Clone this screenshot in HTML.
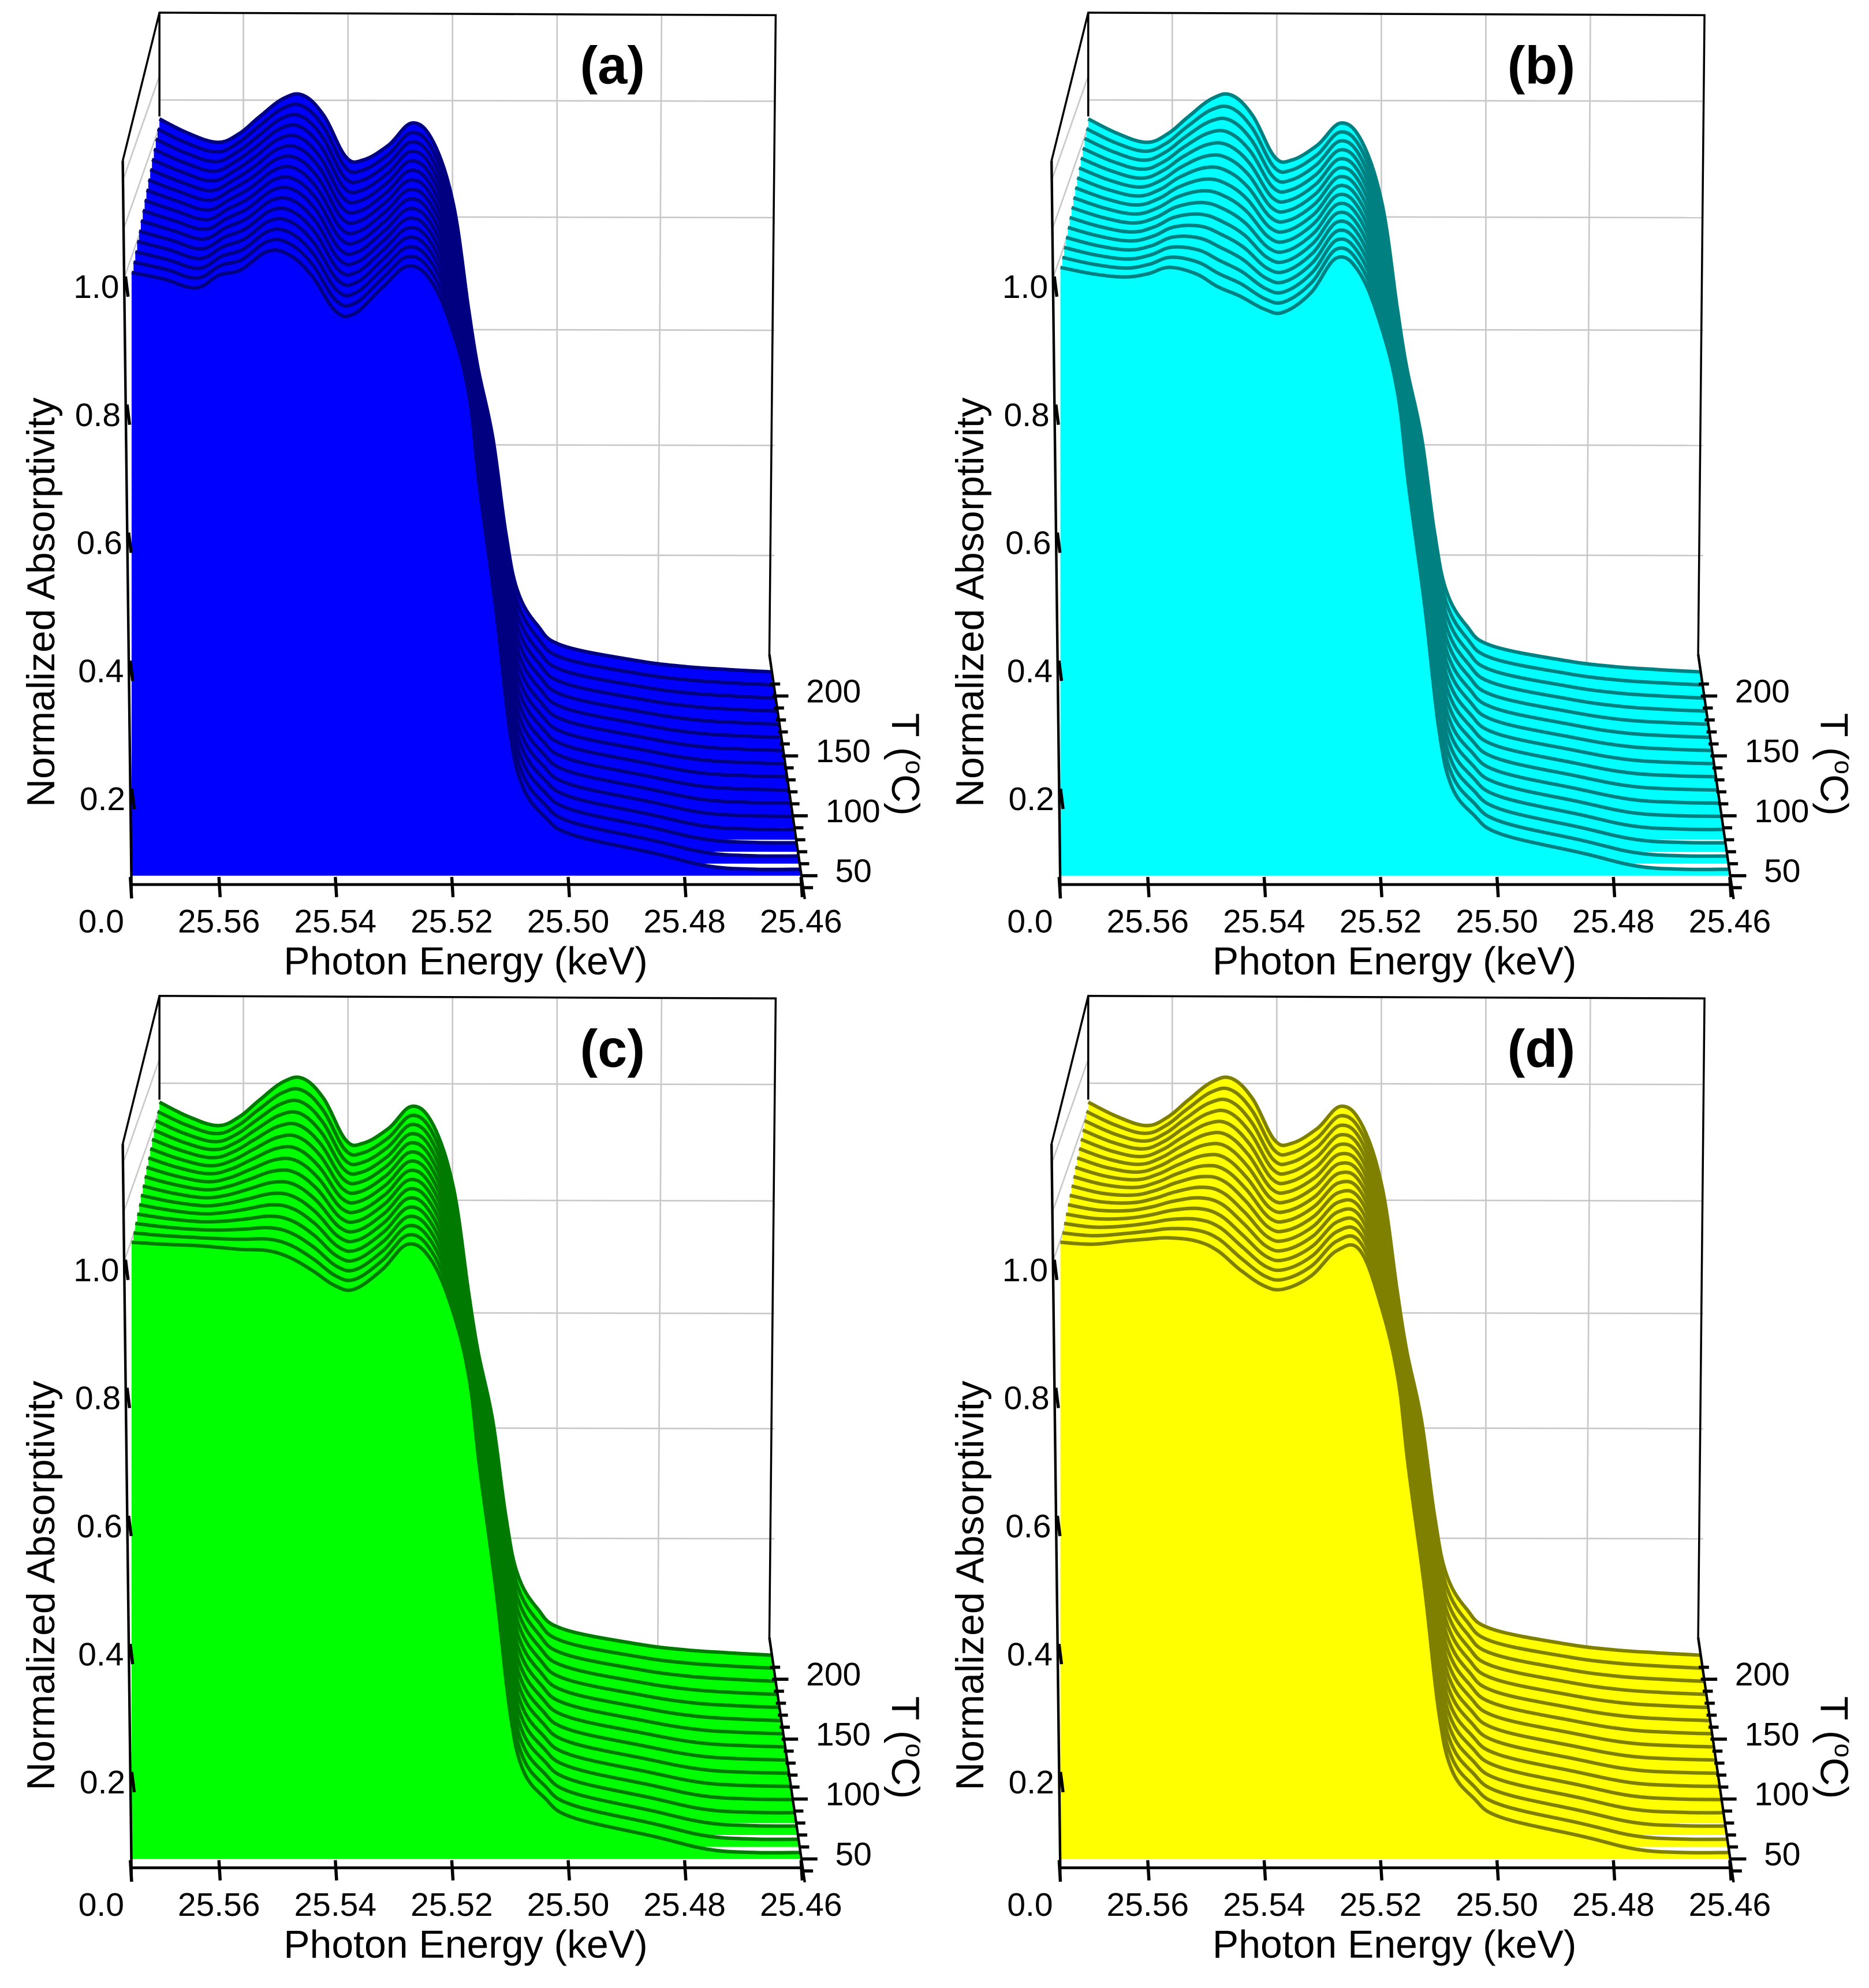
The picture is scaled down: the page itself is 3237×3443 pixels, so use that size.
<!DOCTYPE html>
<html><head><meta charset="utf-8"><style>
html,body{margin:0;padding:0;background:#fff;}
svg{display:block;}
text{font-family:"Liberation Sans",sans-serif;fill:#000;}
</style></head><body>
<svg id="fig" width="3237" height="3443" viewBox="0 0 1477 1571" preserveAspectRatio="none" xmlns="http://www.w3.org/2000/svg"></svg>
<script>
// ---- data ----
const energies = [25.575,25.5695,25.564,25.56,25.5563,25.5517,25.548,25.5441,25.54,25.5367,25.532,25.5275,25.5235,25.5198,25.517,25.5152,25.5124,25.51,25.5078,25.504,25.4993,25.4852,25.476,25.468,25.46];
const temperatures = [50,60,70,80,90,100,110,120,130,140,150,160,170,180,190,200];
const mixWeights = [0,0.067,0.133,0.2,0.267,0.333,0.4,0.467,0.533,0.6,0.667,0.733,0.8,0.867,0.933,1];
const backCurve = [1.065,1.04,1.025,1.04,1.068,1.10,1.105,1.07,1.0,0.995,1.02,1.058,1.024,0.918,0.743,0.64,0.52,0.36,0.26,0.2,0.166,0.14,0.13,0.125,0.121];
const frontA = [1.022,1.012,0.998,1.018,1.026,1.055,1.05,1.018,0.962,0.958,0.998,1.032,1.008,0.93,0.828,0.684,0.494,0.304,0.219,0.172,0.144,0.115,0.095,0.09,0.09];
const frontB = [1.03,1.02,1.015,1.02,1.03,1.02,1.0,0.985,0.965,0.96,0.99,1.045,1.02,0.935,0.83,0.69,0.5,0.31,0.22,0.175,0.145,0.115,0.095,0.09,0.09];
const frontC = [1.043,1.04,1.038,1.035,1.032,1.03,1.02,1.0,0.975,0.97,1.0,1.04,1.015,0.935,0.83,0.69,0.5,0.31,0.22,0.175,0.145,0.115,0.095,0.09,0.09];
const frontD = [1.043,1.04,1.045,1.048,1.05,1.045,1.03,1.0,0.975,0.97,0.99,1.03,1.03,0.94,0.83,0.69,0.5,0.31,0.22,0.175,0.145,0.115,0.095,0.09,0.09];
const xTicks = [25.56,25.54,25.52,25.50,25.48,25.46];
const xTickLabels = ["25.56","25.54","25.52","25.50","25.48","25.46"];
const yTicks = [0.2,0.4,0.6,0.8,1.0];
const yTickLabels = ["0.2","0.4","0.6","0.8","1.0"];
const tTicks = [40,50,60,70,80,90,100,110,120,130,140,150,160,170,180,190,200,210];
const tLabels = [50,100,150,200];

const NS="http://www.w3.org/2000/svg";
const svg=document.getElementById('fig');
function mk(tag,attrs,parent){const e=document.createElementNS(NS,tag);for(const k in attrs)e.setAttribute(k,attrs[k]);(parent||svg).appendChild(e);return e;}
function smooth(pts){
  let d='M'+pts[0][0].toFixed(1)+','+pts[0][1].toFixed(1);
  for(let i=0;i<pts.length-1;i++){
    const p0=pts[Math.max(0,i-1)],p1=pts[i],p2=pts[i+1],p3=pts[Math.min(pts.length-1,i+2)];
    const t=0.18;
    const c1=[p1[0]+(p2[0]-p0[0])*t,p1[1]+(p2[1]-p0[1])*t];
    const c2=[p2[0]-(p3[0]-p1[0])*t,p2[1]-(p3[1]-p1[1])*t];
    d+=' C'+c1[0].toFixed(1)+','+c1[1].toFixed(1)+' '+c2[0].toFixed(1)+','+c2[1].toFixed(1)+' '+p2[0].toFixed(1)+','+p2[1].toFixed(1);
  }
  return d;
}

function panel(ox,oy,front,fill,stroke,label,key){
  const g=mk('g',{});
  
  
  const s=d=>1-0.085*d;
  const X=(E,d)=>ox+363+(104+(25.575-E)*4600-363)*s(d);
  const FY=d=>oy+692-142*d;
  const Y=(v,d)=>FY(d)-(v-0.08)*506*s(d);
  const dOf=T=>(T-50)/150;
  const grid=mk('g',{stroke:'#c8c8c8','stroke-width':1.2,fill:'none'},g);
  
  
  [79,171,260,351,438].forEach(y=>mk('line',{x1:ox+126,y1:oy+y,x2:ox+612,y2:oy+y+1},grid));
  [25.56,25.54,25.52,25.50,25.48].forEach(E=>{const x=X(E,1.2);mk('line',{x1:x,y1:oy+11,x2:x+(E<25.5?-3:0),y2:oy+525},grid);});
  [60,100,140].forEach(y=>mk('line',{x1:ox+126,y1:oy+y,x2:ox+98,y2:oy+y+80},grid));
  for(let i=temperatures.length-1;i>=0;i--){
    const d=dOf(temperatures[i]),w=mixWeights[i];
    const pts=energies.map((E,j)=>[X(E,d),Y(front[j]*(1-w)+backCurve[j]*w,d)]);
    const line=smooth(pts);
    const area=line+' L'+X(25.46,d).toFixed(1)+','+FY(d).toFixed(1)+' L'+X(25.575,d).toFixed(1)+','+FY(d).toFixed(1)+' Z';
    const pg=mk('path',{d:area,fill:fill,stroke:'none'},g);
    
    
    const pl=mk('path',{d:line,fill:'none',stroke:stroke,'stroke-width':2.8,'stroke-linejoin':'round'},g);
    
    
  }
  const fr=mk('g',{stroke:'#000','stroke-width':1.6,fill:'none'},g);
  
  
  mk('polyline',{points:`${ox+97},${oy+127} ${ox+126},${oy+10} ${ox+613},${oy+12} ${ox+608},${oy+517}`},fr);
  mk('line',{x1:ox+126,y1:oy+10,x2:ox+126,y2:oy+92},fr);
  mk('line',{x1:ox+97,y1:oy+127,x2:ox+104,y2:oy+709,'stroke-width':2},fr);
  mk('line',{x1:X(25.575,0),y1:oy+699,x2:X(25.46,0),y2:oy+699,'stroke-width':2.2},fr);
  mk('line',{x1:X(25.575,0)-1,y1:oy+693,x2:X(25.575,0),y2:oy+710,'stroke-width':2.5},fr);
  xTicks.forEach((E,k)=>{
    const x=X(E,0);
    mk('line',{x1:x,y1:oy+693,x2:x+1,y2:oy+709,'stroke-width':2.5},fr);
    const t=mk('text',{x:x,y:oy+737,'font-size':26,'text-anchor':'middle'},g);t.textContent=xTickLabels[k];
    
    
  });
  const z=mk('text',{x:ox+80,y:oy+737,'font-size':26,'text-anchor':'middle'},g);z.textContent='0.0';
  
  
  yTicks.forEach((v,k)=>{
    const y=Y(v,0),x=ox+98+(y-oy-127)/83;
    mk('line',{x1:x,y1:y-8,x2:x+2,y2:y+8,'stroke-width':2.5},fr);
    const t=mk('text',{x:x-5,y:y+9,'font-size':26,'text-anchor':'end'},g);t.textContent=yTickLabels[k];
    
    
  });
  mk('line',{x1:X(25.46,-0.13),y1:FY(-0.13),x2:ox+608,y2:oy+517,'stroke-width':2},fr);
  tTicks.forEach(T=>{
    const d=dOf(T),x=X(25.46,d),y=FY(d);
    const long=T%50===0;
    mk('line',{x1:x,y1:y,x2:x+(long?13:8),y2:y,'stroke-width':2.5},fr);
  });
  tLabels.forEach(T=>{
    const d=dOf(T);
    const t=mk('text',{x:X(25.46,d)+27,y:FY(d)+5,'font-size':26},g);t.textContent=String(T);
    
    
  });
  const xt=mk('text',{x:ox+368,y:oy+770,'font-size':31,'text-anchor':'middle'},g);xt.textContent='Photon Energy (keV)';
  
  
  const yt=mk('text',{x:0,y:0,'font-size':31,'text-anchor':'middle',transform:`translate(${ox+43},${oy+476}) rotate(-90)`},g);yt.textContent='Normalized Absorptivity';
  
  
  const tt=mk('text',{x:0,y:0,'font-size':31,'text-anchor':'middle',transform:`translate(${ox+705},${oy+604}) rotate(90)`},g);
  
  
  tt.appendChild(document.createTextNode('T ('));
  const sup=document.createElementNS(NS,'tspan');sup.setAttribute('dy','-11');sup.setAttribute('font-size','20');sup.textContent='o';tt.appendChild(sup);
  const c=document.createElementNS(NS,'tspan');c.setAttribute('dy','11');c.textContent='C)';tt.appendChild(c);
  const pl=mk('text',{x:ox+484,y:oy+66,'font-size':42,'font-weight':'bold','text-anchor':'middle'},g);pl.textContent=label;
  
  
}
panel(0,0,frontA,'#0000ff','#000080','(a)','a');
panel(734,0,frontB,'#00ffff','#008080','(b)','b');
panel(0,777,frontC,'#00ff00','#007a00','(c)','c');
panel(734,777,frontD,'#ffff00','#808000','(d)','d');
</script>
</body></html>
